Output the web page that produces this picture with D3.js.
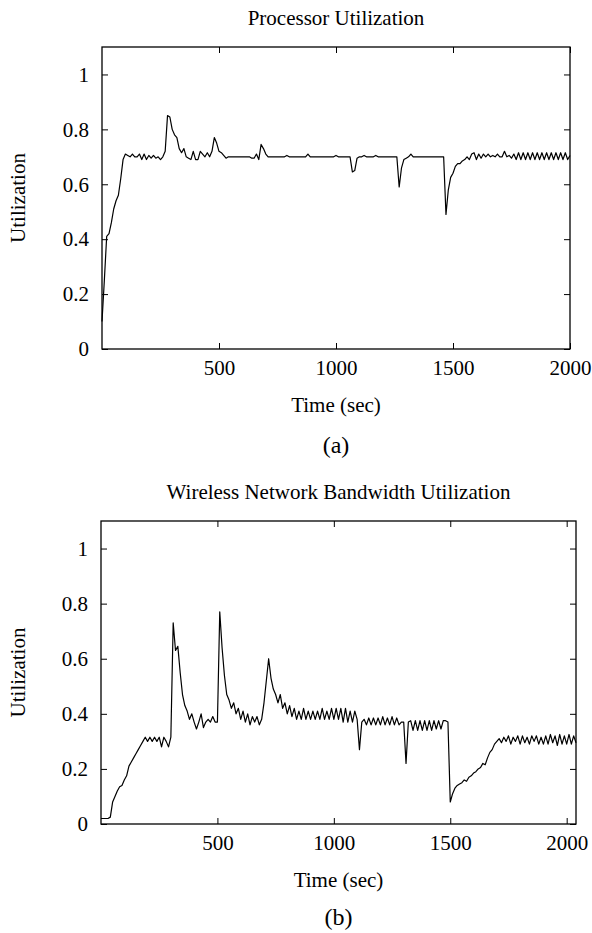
<!DOCTYPE html>
<html>
<head>
<meta charset="utf-8">
<script src="https://cdn.jsdelivr.net/npm/d3@7"></script>
<style>
  html, body { margin: 0; padding: 0; background: #fff; }
  svg { display: block; }
  svg text { font-family: "Liberation Serif", "Times New Roman", "DejaVu Serif", serif !important; fill: #000; }
</style>
</head>
<body>
<svg id="chart" width="592" height="933"></svg>
<script>
// ---------- DATA ----------
const sampleStep = 10; // seconds between samples

// Processor utilization, one value every 10 s from t = 0 to 2000
const cpuUtil = [
  0.10,0.25,0.41,0.42,0.46,0.51,0.54,0.56,0.62,0.69,
  0.71,0.705,0.70,0.71,0.70,0.70,0.71,0.69,0.71,0.69,
  0.705,0.695,0.705,0.695,0.70,0.69,0.70,0.72,0.85,0.845,
  0.80,0.78,0.77,0.73,0.715,0.73,0.70,0.695,0.69,0.72,
  0.69,0.69,0.72,0.71,0.70,0.715,0.70,0.72,0.77,0.75,
  0.72,0.715,0.705,0.695,0.70,0.70,0.70,0.70,0.70,0.70,
  0.70,0.70,0.70,0.70,0.695,0.695,0.71,0.69,0.745,0.73,
  0.71,0.70,0.70,0.70,0.70,0.70,0.70,0.70,0.70,0.705,
  0.70,0.70,0.70,0.70,0.70,0.70,0.70,0.70,0.71,0.70,
  0.70,0.70,0.70,0.70,0.70,0.70,0.70,0.70,0.70,0.70,
  0.705,0.70,0.70,0.70,0.70,0.70,0.70,0.645,0.65,0.695,
  0.70,0.70,0.705,0.70,0.70,0.70,0.70,0.705,0.70,0.70,
  0.70,0.70,0.70,0.70,0.70,0.70,0.70,0.59,0.66,0.69,
  0.695,0.70,0.71,0.70,0.70,0.70,0.70,0.70,0.70,0.70,
  0.70,0.70,0.70,0.70,0.70,0.70,0.70,0.49,0.58,0.625,
  0.64,0.665,0.675,0.675,0.685,0.69,0.70,0.69,0.71,0.715,
  0.69,0.71,0.695,0.71,0.70,0.71,0.70,0.705,0.70,0.71,
  0.70,0.70,0.72,0.70,0.705,0.695,0.71,0.69,0.715,0.69,
  0.715,0.69,0.715,0.69,0.715,0.69,0.715,0.69,0.715,0.69,
  0.715,0.69,0.715,0.69,0.715,0.69,0.715,0.69,0.715,0.69,
  0.705
];

// Wireless bandwidth utilization, one value every 10 s from t = 0 to 2040
const netUtil = [
  0.02,0.02,0.02,0.02,0.025,0.08,0.10,0.12,0.135,0.14,
  0.16,0.175,0.21,0.225,0.24,0.255,0.27,0.285,0.30,0.315,
  0.30,0.315,0.30,0.315,0.30,0.315,0.28,0.315,0.30,0.28,
  0.315,0.73,0.63,0.645,0.55,0.47,0.43,0.41,0.38,0.40,
  0.37,0.345,0.37,0.40,0.35,0.37,0.38,0.37,0.39,0.37,
  0.37,0.77,0.64,0.54,0.47,0.45,0.42,0.44,0.40,0.42,
  0.38,0.41,0.37,0.40,0.36,0.39,0.37,0.39,0.36,0.38,
  0.44,0.52,0.60,0.53,0.49,0.47,0.44,0.47,0.42,0.44,
  0.40,0.43,0.39,0.42,0.38,0.41,0.38,0.42,0.38,0.41,
  0.38,0.41,0.38,0.41,0.38,0.42,0.38,0.41,0.38,0.42,
  0.38,0.42,0.38,0.42,0.37,0.42,0.37,0.41,0.37,0.41,
  0.38,0.27,0.37,0.38,0.36,0.385,0.36,0.385,0.36,0.385,
  0.36,0.39,0.36,0.385,0.36,0.39,0.36,0.385,0.36,0.37,
  0.37,0.22,0.37,0.375,0.34,0.375,0.34,0.375,0.34,0.375,
  0.34,0.375,0.34,0.375,0.345,0.375,0.345,0.375,0.375,0.37,
  0.08,0.11,0.13,0.14,0.145,0.15,0.16,0.155,0.17,0.175,
  0.185,0.19,0.20,0.205,0.22,0.215,0.24,0.26,0.27,0.29,
  0.30,0.31,0.295,0.315,0.30,0.32,0.29,0.315,0.30,0.32,
  0.29,0.32,0.295,0.315,0.29,0.32,0.30,0.32,0.29,0.315,
  0.29,0.32,0.29,0.325,0.295,0.32,0.285,0.325,0.29,0.32,
  0.29,0.325,0.29,0.32,0.295
];

const xTicks = [500, 1000, 1500, 2000];
const yTicks = [0, 0.2, 0.4, 0.6, 0.8, 1];
const yTickLabels = ["0", "0.2", "0.4", "0.6", "0.8", "1"];

const panels = [
  { title: "Processor Utilization", caption: "(a)", values: cpuUtil, xMax: 2000,
    left: 102, right: 570, top: 47, bottom: 349 },
  { title: "Wireless Network Bandwidth Utilization", caption: "(b)", values: netUtil, xMax: 2040,
    left: 101, right: 576, top: 521, bottom: 824 }
];

// ---------- DRAW ----------
const svg = d3.select("#chart");
const SERIF = '"Liberation Serif", "Times New Roman", "DejaVu Serif", serif';

panels.forEach(p => {
  const x = d3.scaleLinear().domain([0, p.xMax]).range([p.left, p.right]);
  const y = d3.scaleLinear().domain([0, 1.1]).range([p.bottom, p.top]);
  const g = svg.append("g");
  const tickLen = 6;

  const ax = g.append("g").attr("transform", `translate(0,${p.bottom})`)
    .call(d3.axisBottom(x).tickValues(xTicks).tickSizeInner(-tickLen).tickSizeOuter(0).tickPadding(11)
      .tickFormat(d3.format("d")));
  const axT = g.append("g").attr("transform", `translate(0,${p.top})`)
    .call(d3.axisTop(x).tickValues(xTicks).tickSizeInner(-tickLen).tickSizeOuter(0).tickFormat(""));
  const ay = g.append("g").attr("transform", `translate(${p.left},0)`)
    .call(d3.axisLeft(y).tickValues(yTicks).tickSizeInner(-tickLen).tickSizeOuter(0).tickPadding(13)
      .tickFormat((d, i) => yTickLabels[i]));
  const ayR = g.append("g").attr("transform", `translate(${p.right},0)`)
    .call(d3.axisRight(y).tickValues(yTicks).tickSizeInner(-tickLen).tickSizeOuter(0).tickFormat(""));

  [ax, axT, ay, ayR].forEach(a => {
    a.attr("font-family", null);
    a.select(".domain").remove();
    a.selectAll("line").attr("stroke", "#000").attr("stroke-width", 1);
    a.selectAll("text").style("font-family", SERIF).style("font-size", "21px").attr("fill", "#000");
  });

  g.append("rect")
    .attr("x", p.left).attr("y", p.top)
    .attr("width", p.right - p.left).attr("height", p.bottom - p.top)
    .attr("fill", "none").attr("stroke", "#000").attr("stroke-width", 1.3);

  const line = d3.line()
    .x((d, i) => x(i * sampleStep))
    .y(d => y(d));
  g.append("path")
    .datum(p.values)
    .attr("fill", "none")
    .attr("stroke", "#000")
    .attr("stroke-width", 1.2)
    .attr("stroke-linejoin", "round")
    .attr("d", line);

  const cx = (p.left + p.right) / 2;
  g.append("text").attr("x", cx).attr("y", p.top - 22)
    .attr("text-anchor", "middle").style("font-family", SERIF).style("font-size", "21px").text(p.title);
  g.append("text").attr("x", cx).attr("y", p.bottom + 63)
    .attr("text-anchor", "middle").style("font-family", SERIF).style("font-size", "21px").text("Time (sec)");
  g.append("text")
    .attr("transform", `translate(25,${(p.top + p.bottom) / 2}) rotate(-90)`)
    .attr("text-anchor", "middle").style("font-family", SERIF).style("font-size", "21px").text("Utilization");
  g.append("text").attr("x", cx).attr("y", p.bottom + (p.caption === "(a)" ? 104 : 101))
    .attr("text-anchor", "middle").style("font-family", SERIF).style("font-size", "24px").text(p.caption);
});
</script>
</body>
</html>
